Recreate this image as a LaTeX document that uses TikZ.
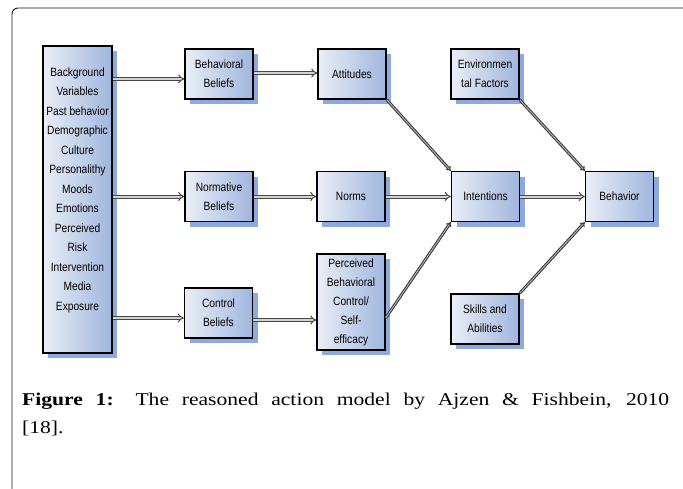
\documentclass[tikz,border=0pt]{standalone}
\usepackage{fontspec}
\setmainfont[FakeStretch=1.2]{Liberation Serif}
\newfontfamily\arialf[FakeStretch=0.85]{Liberation Sans}
\usetikzlibrary{shadows,arrows.meta,calc}
\definecolor{boxL}{RGB}{234,238,246}
\definecolor{boxR}{RGB}{160,182,222}
\definecolor{shadowB}{RGB}{120,155,222}
\definecolor{arrowD}{RGB}{70,70,70}
\definecolor{arrowL}{RGB}{212,212,206}
\tikzset{
  box/.style={draw=black, line width=1.4pt, left color=boxL, right color=boxR,
    minimum width=68pt, minimum height=50pt, inner sep=0pt, align=center,
    font=\arialf\fontsize{12}{19}\selectfont,
    drop shadow={shadow xshift=5pt, shadow yshift=-5pt, fill=shadowB, opacity=0.85}},
  boxtext/.style={inner sep=0pt, align=center, font=\arialf\fontsize{12}{19.5}\selectfont},
  harrow/.style={draw=arrowD, line width=1pt, double=arrowL, double distance=2pt, -{Implies}},
  darrow/.style={draw=black!75, line width=1.1pt, double=gray!55, double distance=0.8pt, -{Implies}},
  frame/.style={draw=black!90, line width=0.9pt, rounded corners=6pt}
}
\begin{document}
\begin{tikzpicture}[x=1pt,y=-1pt]
\useasboundingbox (0,0) rectangle (683,488);
\fill[white] (0,0) rectangle (683,488);
\draw[frame] (700,8) -- (12,8) -- (12,500) -- (40,500);

% nodes
\node[box, minimum height=307pt, minimum width=69pt] (bg) at (77.5,199.5) {};
\node[boxtext] (bgtext) at (77.5,190) {Background\\Variables\\Past behavior\\Demographic\\Culture\\Personalithy\\Moods\\Emotions\\Perceived\\Risk\\Intervention\\Media\\Exposure};

\node[box] (bb) at (219,74) {Behavioral\\Beliefs};
\node[box] (att) at (352,74) {Attitudes};
\node[box] (env) at (485,74) {Environmen\\tal Factors};

\node[box] (nb) at (219,196.5) {Normative\\Beliefs};
\node[box] (norms) at (351,196.5) {Norms};
\node[box] (int) at (485.5,196.5) {Intentions};
\node[box] (beh) at (619.5,196.5) {Behavior};

\node[box] (cb) at (218.5,313) {Control\\Beliefs};
\node[box, minimum height=96pt] (pbc) at (351,302) {Perceived\\Behavioral\\Control/\\Self-\\efficacy};
\node[box] (sk) at (485,319) {Skills and\\Abilities};

% horizontal arrows
\draw[harrow] ($(bg.east |- bb.west)+(0,5)$) -- ($(bb.west)+(0,5)$);
\draw[harrow] ($(bb.east)+(0,-1)$) -- ($(att.west)+(0,-1)$);
\draw[harrow] (bg.east |- nb.west) -- (nb.west);
\draw[harrow] (nb.east) -- (norms.west);
\draw[harrow] (norms.east) -- (int.west);
\draw[harrow] (int.east) -- (beh.west);
\draw[harrow] ($(bg.east |- cb.west)+(0,5)$) -- ($(cb.west)+(0,5)$);
\draw[harrow] ($(cb.east)+(0,7)$) -- ($(pbc.west |- cb.east)+(0,7)$);

% diagonal arrows
\draw[darrow] (att.south east) -- (int.north west);
\draw[darrow] ($(pbc.east)+(0,16)$) -- (int.south west);
\draw[darrow] (env.south east) -- (beh.north west);
\draw[darrow] (sk.north east) -- (beh.south west);

% caption
\node[anchor=base west, inner sep=0pt] (cap) at (22,405)
  {\parbox[t]{647pt}{\fontsize{18}{28}\selectfont\textbf{Figure 1:} The reasoned action model by Ajzen \& Fishbein, 2010\linebreak{}[18].}};
\end{tikzpicture}
\end{document}
